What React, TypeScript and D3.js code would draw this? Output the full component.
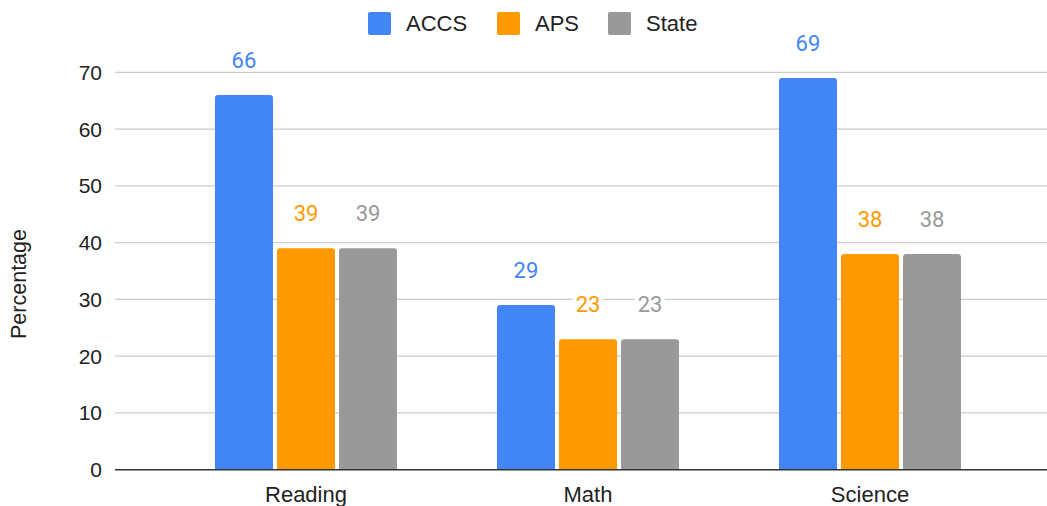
import React from "react";
import * as d3 from "d3";

const categories = ["Reading", "Math", "Science"];
const seriesNames = ["ACCS", "APS", "State"];
const accs = [66, 29, 69];
const aps = [39, 23, 38];
const state = [39, 23, 38];
const yTicks = [0, 10, 20, 30, 40, 50, 60, 70];
const colors = ["#4285F4", "#FF9900", "#999999"];

const W = 1047;
const H = 506;
const axisFont = "'Liberation Sans', Arial, sans-serif";
const labelFont = "Roboto, 'Liberation Sans', sans-serif";

export default function App() {
  const seriesValues = [accs, aps, state];
  const y = d3.scaleLinear().domain([0, 70]).range([469.7, 72.3]);
  const x0 = d3.scaleBand<string>().domain(categories).range([165, 1011]).paddingInner(0).paddingOuter(0);
  const groupW = 182;
  const x1 = d3
    .scaleBand<string>()
    .domain(seriesNames)
    .range([0, groupW])
    .paddingInner(0.065)
    .paddingOuter(0);

  const roundTop = (xx: number, yy: number, w: number, h: number, r: number) => {
    const p = d3.path();
    p.moveTo(xx, yy + h);
    p.lineTo(xx, yy + r);
    p.quadraticCurveTo(xx, yy, xx + r, yy);
    p.lineTo(xx + w - r, yy);
    p.quadraticCurveTo(xx + w, yy, xx + w, yy + r);
    p.lineTo(xx + w, yy + h);
    p.closePath();
    return p.toString();
  };

  const legendX = [368, 497, 608];

  return (
    <svg
      width={W}
      height={H}
      style={{ position: "absolute", left: 0, top: 0, display: "block", background: "#fff" }}
    >
      {/* legend */}
      {seriesNames.map((s, i) => (
        <g key={s}>
          <rect x={legendX[i]} y={12} width={23} height={23} rx={2} fill={colors[i]} />
          <text
            x={legendX[i] + 38}
            y={31}
            fontFamily={axisFont}
            fontSize={22}
            fill="#222"
          >
            {s}
          </text>
        </g>
      ))}

      {/* gridlines */}
      {yTicks.map((t) => (
        <g key={t}>
          {t !== 0 && (
            <line x1={115} x2={1047} y1={y(t)} y2={y(t)} stroke="#cccccc" strokeWidth={1.3} />
          )}
          <text
            x={102}
            y={y(t) + 7.5}
            textAnchor="end"
            fontFamily={axisFont}
            fontSize={21}
            fill="#222"
          >
            {t}
          </text>
        </g>
      ))}

      {/* y title */}
      <text
        transform={`translate(26, ${284}) rotate(-90)`}
        textAnchor="middle"
        fontFamily={axisFont}
        fontSize={21.5}
        fill="#222"
      >
        Percentage
      </text>

      {/* bars */}
      {categories.map((c, ci) => {
        const gx = (x0(c) as number) + x0.bandwidth() / 2 - groupW / 2;
        return (
          <g key={c}>
            {seriesNames.map((s, si) => {
              const v = seriesValues[si][ci];
              const bx = gx + (x1(s) as number);
              const bw = x1.bandwidth();
              return (
                <path
                  key={s}
                  d={roundTop(bx, y(v), bw, y(0) - y(v), 3)}
                  fill={colors[si]}
                />
              );
            })}
            {seriesNames.map((s, si) => {
              const v = seriesValues[si][ci];
              const bx = gx + (x1(s) as number);
              const bw = x1.bandwidth();
              return (
                <text
                  key={s + "l"}
                  x={bx + bw / 2}
                  y={y(v) - 27}
                  textAnchor="middle"
                  fontFamily={labelFont}
                  fontSize={22}
                  fill={colors[si]}
                  stroke="#fff"
                  strokeWidth={8}
                  paintOrder="stroke"
                  strokeLinejoin="round"
                >
                  {v}
                </text>
              );
            })}
            <text
              x={(x0(c) as number) + x0.bandwidth() / 2}
              y={502}
              textAnchor="middle"
              fontFamily={axisFont}
              fontSize={22}
              fill="#222"
            >
              {c}
            </text>
          </g>
        );
      })}

      {/* baseline */}
      <line x1={115} x2={1047} y1={y(0)} y2={y(0)} stroke="#333" strokeWidth={1.5} />
    </svg>
  );
}
